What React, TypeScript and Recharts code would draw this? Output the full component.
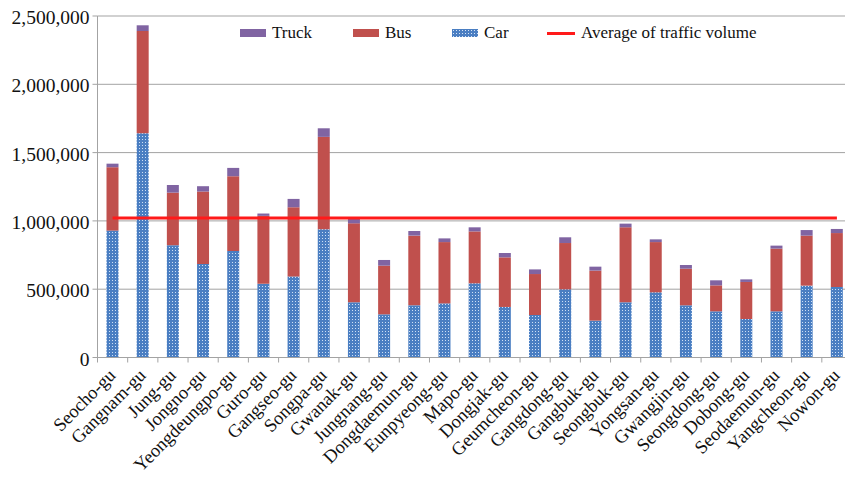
import React from "react";
import { Bar, Line, XAxis, YAxis, CartesianGrid, Legend, ComposedChart } from "recharts";

const districts = [
  "Seocho-gu", "Gangnam-gu", "Jung-gu", "Jongno-gu", "Yeongdeungpo-gu", "Guro-gu", "Gangseo-gu",
  "Songpa-gu", "Gwanak-gu", "Jungnang-gu", "Dongdaemun-gu", "Eunpyeong-gu", "Mapo-gu", "Dongjak-gu",
  "Geumcheon-gu", "Gangdong-gu", "Gangbuk-gu", "Seongbuk-gu", "Yongsan-gu", "Gwangjin-gu",
  "Seongdong-gu", "Dobong-gu", "Seodaemun-gu", "Yangcheon-gu", "Nowon-gu",
];
const car = [
  929000, 1641000, 822000, 685000, 780000, 539000, 593000, 939000, 404000, 316000, 382000, 396000,
  543000, 370000, 311000, 499000, 270000, 404000, 477000, 382000, 338000, 282000, 338000, 526000, 516000,
];
const bus = [
  464000, 749000, 385000, 530000, 547000, 498000, 507000, 676000, 578000, 356000, 510000, 449000,
  380000, 363000, 300000, 339000, 366000, 549000, 368000, 268000, 190000, 271000, 459000, 366000, 395000,
];
const truck = [
  26000, 42000, 56000, 39000, 61000, 17000, 61000, 63000, 32000, 42000, 34000, 27000,
  30000, 32000, 34000, 42000, 29000, 27000, 20000, 27000, 37000, 19000, 22000, 41000, 30000,
];
const averageVolume = 1022000;
const yTicks = [0, 500000, 1000000, 1500000, 2000000, 2500000];

const data = districts.map((name, i) => ({
  name,
  car: car[i],
  bus: bus[i],
  truck: truck[i],
  avg: averageVolume,
}));

const CHART_W = 852;
const CHART_H = 479;
const YAXIS_W = 97.5;
const BAND = (CHART_W - YAXIS_W) / districts.length;
const FONT = "'Liberation Serif', 'Times New Roman', Times, serif";
const GRID = "#a3a3a3";
const CAR_BLUE = "#4a7ec2";
const BUS_RED = "#c0504d";
const TRUCK_PURPLE = "#8064a2";
const AVG_RED = "#ff1a1a";

const fmt = (v: number) => v.toLocaleString("en-US");

const YTick = (props: any) => {
  const { x, y, payload } = props;
  return (
    <text x={x} y={y} textAnchor="end" dy={8} fontSize={19.5} fontFamily={FONT} fill="#111">
      {fmt(payload.value)}
    </text>
  );
};

const XTick = (props: any) => {
  const { x, y, payload, index } = props;
  const half = BAND / 2;
  return (
    <g>
      <line x1={x - half} x2={x - half} y1={y} y2={y + 5} stroke={GRID} />
      {index === districts.length - 1 && (
        <line x1={x + half} x2={x + half} y1={y} y2={y + 5} stroke={GRID} />
      )}
      <g transform={`translate(${x + 4},${y + 19})`}>
        <text transform="rotate(-45)" textAnchor="end" fontSize={18.5} fontFamily={FONT} fill="#111">
          {payload.value}
        </text>
      </g>
    </g>
  );
};

const legendItems = [
  { label: "Truck", color: TRUCK_PURPLE, kind: "box", left: 240 },
  { label: "Bus", color: BUS_RED, kind: "box", left: 353 },
  { label: "Car", color: CAR_BLUE, kind: "dots", left: 452 },
  { label: "Average of traffic volume", color: AVG_RED, kind: "line", left: 547 },
];

const LegendContent = () => (
  <div style={{ position: "relative", width: CHART_W, height: 0 }}>
    {legendItems.map((it) => (
      <div key={it.label} style={{ position: "absolute", left: it.left, top: 24, height: 18, display: "flex", alignItems: "center", whiteSpace: "nowrap" }}>
        {it.kind === "line" ? (
          <span style={{ display: "inline-block", width: 28, height: 3, background: it.color }} />
        ) : (
          <span
            style={{
              display: "inline-block",
              width: 26,
              height: 8,
              background:
                it.kind === "dots"
                  ? `radial-gradient(circle, #d5e3f5 0.6px, ${it.color} 0.9px) 0 0 / 3px 3px`
                  : it.color,
            }}
          />
        )}
        <span style={{ marginLeft: 6, fontFamily: FONT, fontSize: 17, lineHeight: "18px", color: "#111" }}>
          {it.label}
        </span>
      </div>
    ))}
  </div>
);

export default function App() {
  return (
    <div style={{ position: "absolute", left: 0, top: 0, width: 845, height: 479, overflow: "hidden", background: "#fff" }}>
      <ComposedChart
        width={CHART_W}
        height={CHART_H}
        data={data}
        margin={{ top: 16, right: 0, left: 0, bottom: 0 }}
        barSize={12}
      >
        <defs>
          <pattern id="carDots" width="3" height="3" patternUnits="userSpaceOnUse">
            <rect width="3" height="3" fill={CAR_BLUE} />
            <rect x="1" y="1" width="1" height="1" fill="#cfe0f5" />
          </pattern>
        </defs>
        <CartesianGrid vertical={false} stroke={GRID} />
        <XAxis
          dataKey="name"
          interval={0}
          height={121.5}
          tickSize={0}
          tickMargin={0}
          tickLine={false}
          axisLine={{ stroke: GRID }}
          tick={<XTick />}
        />
        <YAxis
          width={YAXIS_W}
          domain={[0, 2500000]}
          ticks={yTicks}
          interval={0}
          tickSize={5}
          tickMargin={3}
          tickLine={{ stroke: GRID }}
          axisLine={{ stroke: GRID }}
          tick={<YTick />}
        />
        <Legend
          layout="horizontal"
          verticalAlign="middle"
          align="center"
          content={<LegendContent />}
          wrapperStyle={{ position: "absolute", top: 0, left: 0, width: CHART_W, height: 0 }}
        />
        <Bar dataKey="car" stackId="a" fill="url(#carDots)" isAnimationActive={false} />
        <Bar dataKey="bus" stackId="a" fill={BUS_RED} isAnimationActive={false} />
        <Bar dataKey="truck" stackId="a" fill={TRUCK_PURPLE} isAnimationActive={false} />
        <Line dataKey="avg" stroke={AVG_RED} strokeWidth={3} dot={false} activeDot={false} isAnimationActive={false} />
      </ComposedChart>
    </div>
  );
}
